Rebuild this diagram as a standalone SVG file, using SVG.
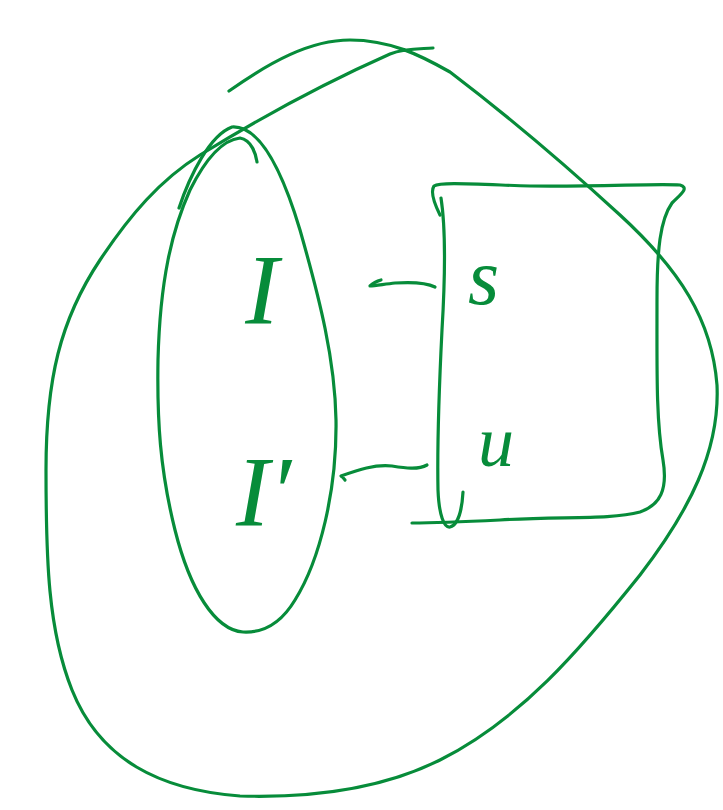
<svg xmlns="http://www.w3.org/2000/svg" width="723" height="810" viewBox="0 0 723 810">
<style>
.s{fill:none;stroke:#078c3a;stroke-width:3.2;stroke-linecap:round;stroke-linejoin:round}
.t{fill:#078c3a;font-family:"Liberation Serif",serif;font-style:italic}
</style>
<rect width="723" height="810" fill="#fff"/>
<g id="outer">
<path class="s" d="M229,91 C270,62 310,40 350,40 C390,40 420,55 450,72 C500,110 560,160 620,215 C680,270 712,320 717,385 C720,450 690,510 640,575 C580,650 520,720 440,760 C380,790 310,798 240,796 C160,790 100,760 72,690 C48,630 46,560 46,470 C46,380 60,320 100,260 C130,215 160,180 200,155 C260,118 320,85 390,54 C405,48 420,49 433,48"/>
</g>
<g id="inner">
<path class="s" d="M179,208 C190,175 210,135 232,127 C262,125 285,180 300,230 C320,300 335,360 336,420 C337,490 320,560 295,600 C280,625 262,633 243,632 C215,630 190,590 175,530 C160,470 157,420 158,360 C160,280 172,230 190,190 C205,160 222,140 240,138 C252,140 256,155 257,162"/>
</g>
<g id="box">
<path class="s" d="M440,215 C435,205 430,192 434,186 C440,182 470,184 530,186 C600,187 660,183 680,185 C690,188 680,195 672,203 C660,220 657,250 657,300 C657,370 656,420 663,460 C668,490 660,505 640,512 C610,520 560,516 500,520 C460,522 430,523 412,523"/>
<path class="s" d="M441,198 C446,230 445,280 442,330 C439,390 437,440 438,490 C439,515 444,528 450,527 C458,525 462,510 463,492"/>
</g>
<g id="connectors">
<path class="s" d="M435,287 C425,282 410,282 395,283 C385,284 375,286 370,286 C373,283 377,281 381,280"/>
<path class="s" d="M427,465 C418,470 405,468 392,466 C375,464 358,470 341,476 C343,477 344,479 345,480"/>
</g>
<g id="labels">
<text class="t" x="262" y="323" font-size="100" text-anchor="middle">I</text>
<text class="t" x="236" y="525" font-size="100">I′</text>
<text class="t" x="468" y="304" font-size="80">s</text>
<text class="t" x="478" y="466" font-size="72">u</text>
</g>
</svg>
